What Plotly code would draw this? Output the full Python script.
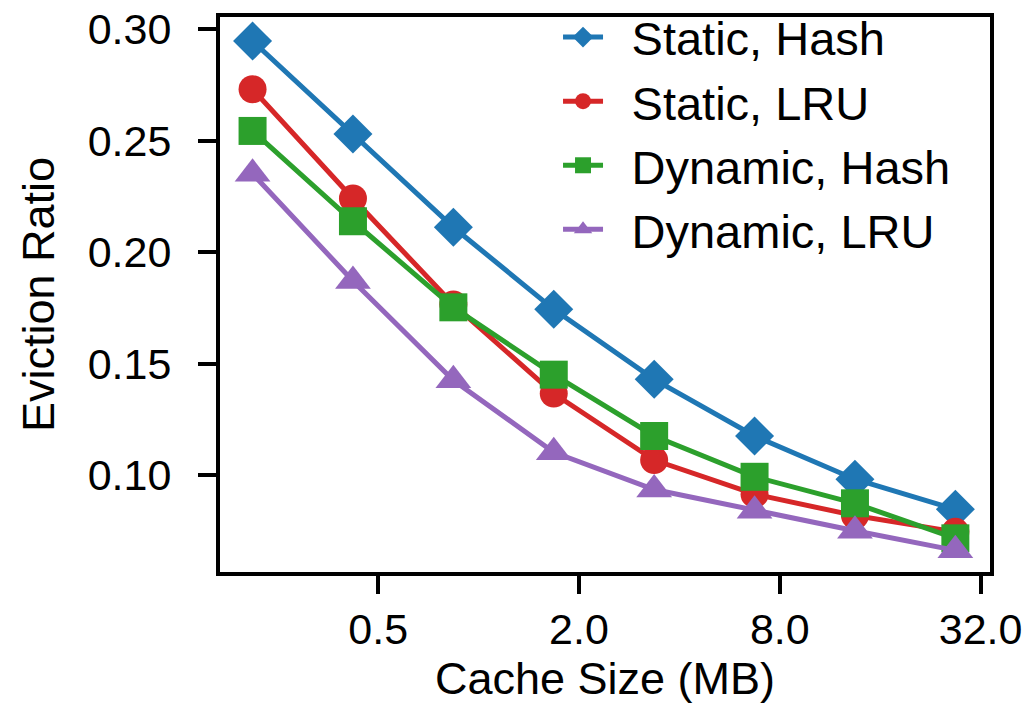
import plotly.graph_objects as go

cache_mb = [0.21, 0.42, 0.84, 1.68, 3.36, 6.72, 13.44, 26.88]
static_hash = [0.2946, 0.2529, 0.2111, 0.1743, 0.1429, 0.1175, 0.0981, 0.0846]
static_lru = [0.2730, 0.2240, 0.1765, 0.1365, 0.1067, 0.0914, 0.0818, 0.0745]
dynamic_hash = [0.2543, 0.2138, 0.1752, 0.1450, 0.1175, 0.0992, 0.0873, 0.0716]
dynamic_lru = [0.2351, 0.1870, 0.1425, 0.1102, 0.0935, 0.0840, 0.0750, 0.0662]

series = [
    ("Static, Hash", static_hash, "#1f77b4", "diamond", 30),
    ("Static, LRU", static_lru, "#d62728", "circle", 28),
    ("Dynamic, Hash", dynamic_hash, "#2ca02c", "square", 28),
    ("Dynamic, LRU", dynamic_lru, "#9467bd", "triangle-up", 31),
]

x_ticks = [0.5, 2, 8, 32]
x_ticktext = ["0.5", "2.0", "8.0", "32.0"]
y_ticks = [0.10, 0.15, 0.20, 0.25, 0.30]

FONT = "Liberation Sans, Arial, Helvetica, sans-serif"
GAP = "\u2002"

fig = go.Figure()
for name, vals, color, sym, size in series:
    fig.add_trace(go.Scatter(
        x=cache_mb, y=vals, name=GAP + name, mode="lines+markers",
        line=dict(color=color, width=5),
        marker=dict(symbol=sym, size=size, color=color, line=dict(width=0)),
    ))

fig.update_layout(
    width=1030, height=726,
    margin=dict(l=220, r=40, t=17, b=154, autoexpand=False),
    paper_bgcolor="white", plot_bgcolor="white",
    font=dict(family=FONT, size=43, color="black"),
    showlegend=True,
    legend=dict(
        x=0.439, y=1.0306, xanchor="left", yanchor="top",
        bgcolor="rgba(0,0,0,0)", borderwidth=0,
        font=dict(size=47, family=FONT),
        itemwidth=40, tracegroupgap=0,
    ),
    xaxis=dict(
        type="log", range=[-0.7754, 1.5333],
        tickvals=x_ticks, ticktext=x_ticktext,
        ticks="outside", ticklen=18, tickwidth=4, tickcolor="black",
        showline=True, linewidth=4, linecolor="black", mirror=True,
        showgrid=False, zeroline=False, automargin=False,
        ticklabelstandoff=-2,
        title=dict(text="Cache Size (MB)", font=dict(size=45), standoff=10),
    ),
    yaxis=dict(
        range=[0.0565, 0.3054],
        tickvals=y_ticks, tickformat=".2f",
        ticks="outside", ticklen=18, tickwidth=4, tickcolor="black",
        showline=True, linewidth=4, linecolor="black", mirror=True,
        showgrid=False, zeroline=False, automargin=False,
        ticklabelstandoff=18,
        title=dict(text="Eviction Ratio", font=dict(size=45), standoff=20),
    ),
)

fig.write_html("out.html", config={"displayModeBar": False},
               post_script="document.body.style.margin='0';")
